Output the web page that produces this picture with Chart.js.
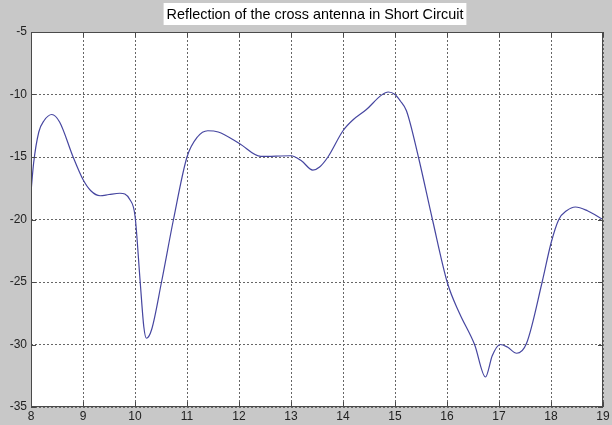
<!DOCTYPE html>
<html>
<head>
<meta charset="utf-8">
<script src="https://cdn.jsdelivr.net/npm/chart.js@4/dist/chart.umd.min.js"></script>
<style>
  html, body { margin: 0; padding: 0; background: #c8c8c8; }
  canvas { display: block; }
</style>
</head>
<body>
<canvas id="chart" width="612" height="425"></canvas>
<script>
// Frequency (x) and reflection (y)
let freq = [8.0, 8.05, 8.15, 8.25, 8.4, 8.55, 8.81, 9.0, 9.15, 9.33, 9.5, 9.71, 9.9, 10.0, 10.1, 10.17, 10.22, 10.32, 10.51, 10.74, 11.0, 11.2, 11.4, 11.6, 12.0, 12.42, 13.0, 13.2, 13.42, 13.55, 13.71, 14.0, 14.2, 14.45, 14.74, 14.87, 15.0, 15.1, 15.22, 15.45, 15.72, 16.01, 16.24, 16.53, 16.74, 16.87, 17.02, 17.16, 17.34, 17.53, 17.83, 18.0, 18.15, 18.3, 18.47, 18.7, 19.0];
let refl = [-17.8, -15.5, -13.0, -12.1, -11.6, -12.2, -15.0, -16.8, -17.7, -18.1, -18.0, -17.9, -18.4, -19.7, -25.0, -28.6, -29.5, -28.8, -25.0, -20.0, -15.0, -13.4, -12.9, -13.0, -13.9, -14.95, -14.9, -15.3, -16.05, -15.8, -15.0, -12.9, -12.0, -11.2, -10.05, -9.8, -10.0, -10.5, -11.3, -15.0, -20.0, -25.1, -27.5, -30.0, -32.6, -30.9, -30.0, -30.2, -30.7, -29.9, -25.0, -21.9, -20.0, -19.3, -19.0, -19.3, -20.0];
let xTicks = [8, 9, 10, 11, 12, 13, 14, 15, 16, 17, 18, 19];
let yTicks = [-5, -10, -15, -20, -25, -30, -35];
let titleText = 'Reflection of the cross antenna in Short Circuit';

let points = freq.map((f, i) => ({x: f, y: refl[i]}));
let fontFam = '"Liberation Sans", Arial, sans-serif';

// white plot box, title on a white strip, border and inward ticks
let framePlugin = {
  id: 'frame',
  beforeDraw(chart) {
    let c = chart.ctx, a = chart.chartArea;
    c.save();
    c.fillStyle = '#ffffff';
    c.fillRect(a.left, a.top, a.right - a.left, a.bottom - a.top);
    c.font = '14.4px ' + fontFam;
    let w = c.measureText(titleText).width;
    let cx = (a.left + a.right) / 2 - 2;
    c.fillRect(cx - w / 2 - 3, 3, w + 6, 22);
    c.fillStyle = '#000';
    c.textAlign = 'center';
    c.textBaseline = 'middle';
    c.fillText(titleText, cx, 15);
    c.restore();
  },
  afterDraw(chart) {
    let c = chart.ctx, a = chart.chartArea;
    let xs = chart.scales.x, ys = chart.scales.y;
    c.save();
    c.strokeStyle = '#4a4a4a';
    c.lineWidth = 1;
    c.strokeRect(a.left + 0.5, a.top + 0.5, a.right - a.left - 1, a.bottom - a.top - 1);
    c.beginPath();
    xTicks.forEach(v => {
      let p = Math.round(xs.getPixelForValue(v)) + 0.5;
      c.moveTo(p, a.bottom); c.lineTo(p, a.bottom - 5);
      c.moveTo(p, a.top); c.lineTo(p, a.top + 5);
    });
    yTicks.forEach(v => {
      let p = Math.round(ys.getPixelForValue(v)) + 0.5;
      c.moveTo(a.left, p); c.lineTo(a.left + 5, p);
      c.moveTo(a.right, p); c.lineTo(a.right - 5, p);
    });
    c.stroke();
    c.restore();
  }
};

let ctx = document.getElementById('chart').getContext('2d');
let chart = new Chart(ctx, {
  type: 'line',
  data: {
    datasets: [{
      data: points,
      borderColor: '#4646a0',
      borderWidth: 1.2,
      pointRadius: 0,
      cubicInterpolationMode: 'monotone',
      fill: false
    }]
  },
  options: {
    responsive: false,
    animation: false,
    devicePixelRatio: 1,
    layout: { padding: { left: 0, right: 9, top: 32, bottom: 0 } },
    plugins: {
      legend: { display: false },
      tooltip: { enabled: false },
      title: { display: false }
    },
    scales: {
      x: {
        type: 'linear',
        min: 8, max: 19,
        afterFit(s) { s.height = 18; },
        afterBuildTicks(s) { s.ticks = xTicks.map(v => ({value: v})); },
        grid: { color: '#666', drawTicks: false },
        border: { display: false, dash: [2, 2] },
        ticks: { color: '#222', padding: 2, maxRotation: 0,
                 font: { family: fontFam, size: 12 } }
      },
      y: {
        min: -35, max: -5,
        afterFit(s) { s.width = 31; },
        afterBuildTicks(s) { s.ticks = yTicks.map(v => ({value: v})); },
        grid: { color: '#666', drawTicks: false },
        border: { display: false, dash: [2, 2] },
        ticks: { color: '#222', padding: 4,
                 font: { family: fontFam, size: 12 } }
      }
    }
  },
  plugins: [framePlugin]
});
</script>
</body>
</html>
